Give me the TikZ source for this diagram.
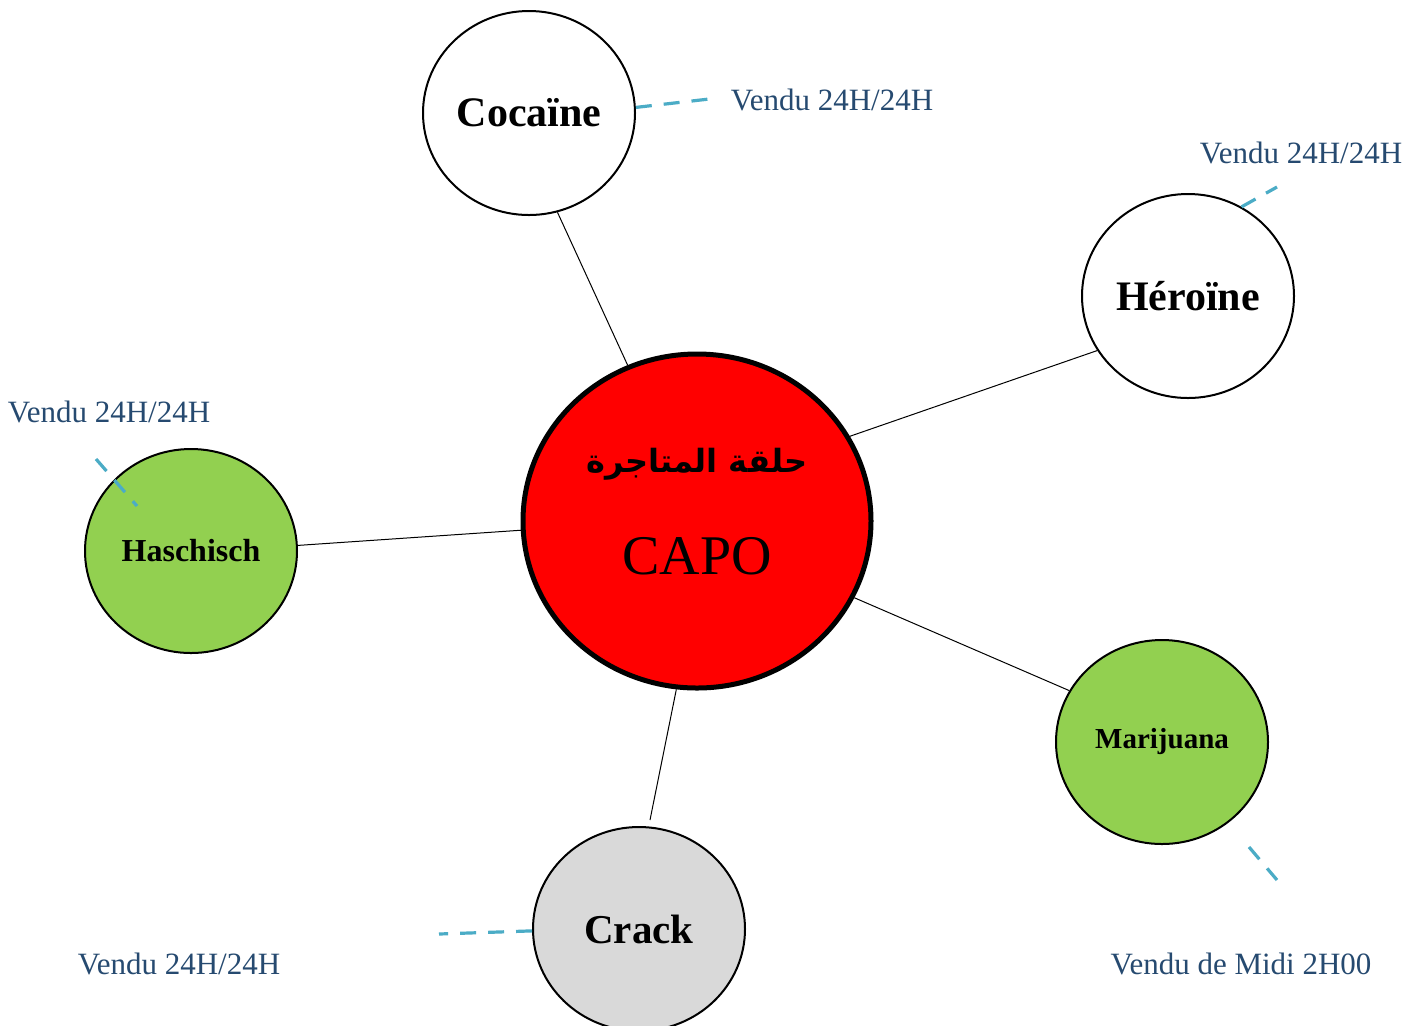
\documentclass[tikz,border=0pt]{standalone}
\usepackage{fontspec}
\setmainfont{Liberation Serif}
\newfontfamily\arabicfont[Script=Arabic]{DejaVu Sans}
\TeXXeTstate=1
\usetikzlibrary{shapes.geometric}
\definecolor{lblue}{HTML}{4BACC6}
\definecolor{dblue}{HTML}{264A70}
\definecolor{lgreen}{HTML}{92D050}
\definecolor{lgray}{HTML}{D9D9D9}
\begin{document}
\begin{tikzpicture}[x=0.5pt,y=-0.5pt,
  drug/.style={ellipse, draw=black, line width=1pt, minimum width=106pt, minimum height=102pt, inner sep=0pt, font=\bfseries},
  link/.style={draw=black, line width=0.5pt},
  tag/.style={draw=lblue, line width=1.6pt, dash pattern=on 8pt off 6pt},
  note/.style={text=dblue, inner sep=0pt, font=\fontsize{15.5}{17}\selectfont}]
\useasboundingbox (0,0) rectangle (1424,1025);
\fill[white] (0,0) rectangle (1424,1025);
% central node
\node[ellipse, draw=black, line width=2.5pt, fill=red, minimum width=174pt, minimum height=167pt] (capo) at (697,521) {};
\node[inner sep=0pt, font=\arabicfont\bfseries\fontsize{16}{20}\selectfont] (capoar) at (697,464) {\beginR حلقة المتاجرة\endR};
\node[inner sep=0pt, font=\fontsize{28}{32}\selectfont] (capotx) at (697,556) {CAPO};
% drug nodes
\node[drug, fill=white, font=\bfseries\fontsize{21}{24}\selectfont] (coc) at (529,113) {Cocaïne};
\node[drug, fill=white, font=\bfseries\fontsize{21}{24}\selectfont] (her) at (1188,296) {Héroïne};
\node[drug, fill=lgreen, font=\bfseries\fontsize{16}{18}\selectfont] (has) at (191,551) {Haschisch};
\node[drug, fill=lgreen, font=\bfseries\fontsize{14.5}{18}\selectfont] (mar) at (1162,742) {Marijuana};
\node[drug, fill=lgray, font=\bfseries\fontsize{20.5}{24}\selectfont] (cra) at (639,929) {Crack};
% links
\coordinate (craend) at (650,820);
\draw[link] (capo.114) -- (coc.286);
\draw[link] (capo.29) -- (her.211);
\draw[link] (capo.183) -- (has.3);
\draw[link] (capo.334) -- (mar.151);
\draw[link] (capo.263) -- (craend);
% notes
\node[note] (n1) at (832,100) {Vendu 24H/24H};
\node[note] (n2) at (1301,153) {Vendu 24H/24H};
\node[note] (n3) at (109,412) {Vendu 24H/24H};
\node[note] (n4) at (179,964) {Vendu 24H/24H};
\node[note] (n5) at (1241,964) {Vendu de Midi 2H00};
% dashed ticks
\coordinate (t1) at (718,98);
\coordinate (t2) at (1277,187);
\coordinate (t3a) at (96,459);
\coordinate (t3b) at (137,506);
\coordinate (t4a) at (1249,847);
\coordinate (t4b) at (1277,880);
\coordinate (t5) at (439,934);
\draw[tag] (coc.3) -- (t1);
\draw[tag] (her.59) -- (t2);
\draw[tag] (t3a) -- (t3b);
\draw[tag] (t4a) -- (t4b);
\draw[tag] (cra.181) -- (t5);
\end{tikzpicture}
\end{document}
